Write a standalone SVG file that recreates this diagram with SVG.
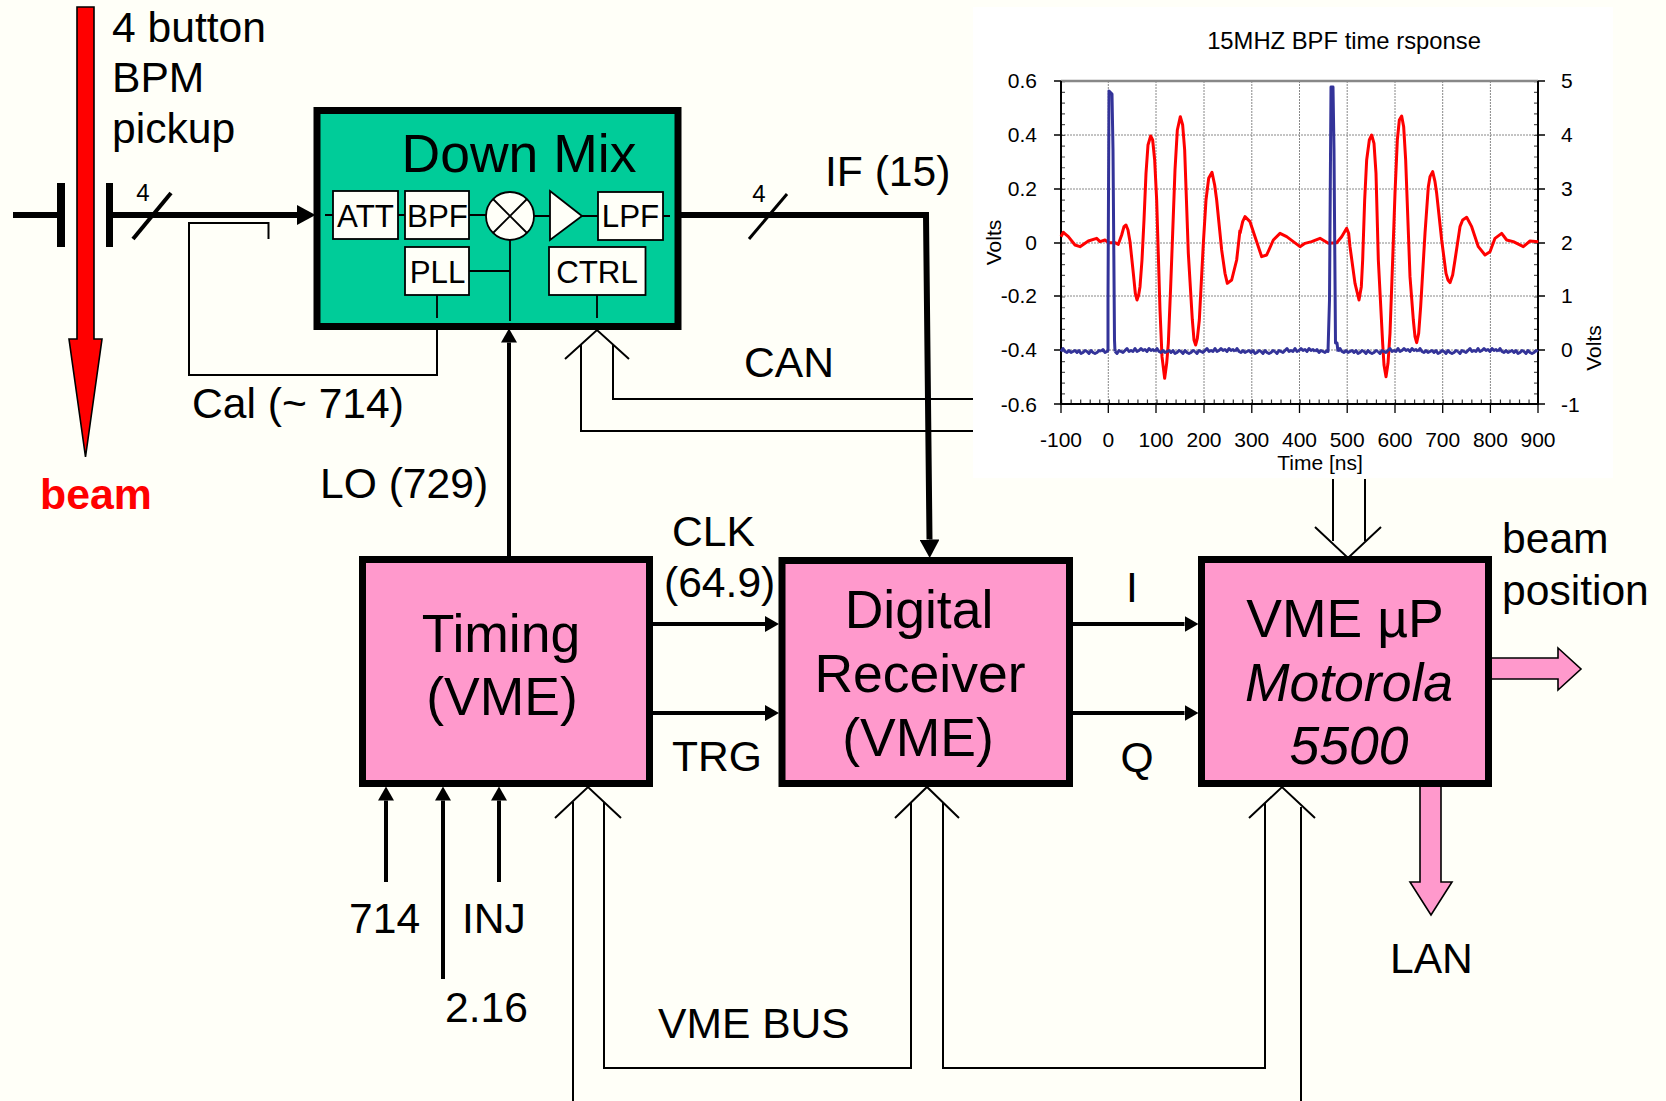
<svg xmlns="http://www.w3.org/2000/svg" width="1666" height="1101" viewBox="0 0 1666 1101">
<style>
text{font-family:"Liberation Sans",Arial,sans-serif;fill:#000}
.l{font-size:42.600px}.m{font-size:53.500px;text-anchor:middle}.i{font-style:italic}
.s{font-size:31.300px;text-anchor:middle}.n{font-size:24px;text-anchor:middle}
.c{font-size:21px}.ce{text-anchor:end}.cm{text-anchor:middle}
.pink{fill:#ff99cc;stroke:#000;stroke-width:7}
.sub{fill:#fffff8;stroke:#000;stroke-width:1.8}
.thin{fill:none;stroke:#000;stroke-width:2}
.med{fill:none;stroke:#000;stroke-width:4}
.thick{fill:none;stroke:#000;stroke-width:6}
.grid{fill:none;stroke:#888;stroke-width:1;stroke-dasharray:2 1}
.fat{fill:#ff99cc;stroke:#000;stroke-width:1.6}
.red{fill:none;stroke:#f00;stroke-width:9;stroke-linejoin:round}
.blue{fill:none;stroke:#333399;stroke-width:3;stroke-linejoin:round}
</style>
<defs>
<marker id="a" markerUnits="userSpaceOnUse" markerWidth="15" markerHeight="16" refX="0" refY="8" orient="auto"><path d="M0 0L14 8L0 16z" fill="#000"/></marker>
<marker id="b" markerUnits="userSpaceOnUse" markerWidth="19" markerHeight="20" refX="0" refY="10" orient="auto"><path d="M0 0L18.500 10L0 20z" fill="#000"/></marker>
<path id="nb" class="blue" d="M0 0l2-3 2 3 2 1 2-2 2 2 2-1 2-1 2 2 2-2 2 3 2-1 2-2 2 1 2 2 2-3 2 2 2 1 2-1 2-2 2 1"/>
<path id="nc" class="blue" d="M0 0l2 2 2-3 2 1 2 1 2-2 2-2 2 3 2-1 2 1 2-3 2 3 2-1 2-2 2 2 2-1 2 2 2-3 2 2 2-1 2 2"/>
</defs>
<rect width="1666" height="1101" fill="#fffff8"/>

<g id="connectors">
<path class="thick" d="M13 215H60M112 215H297" marker-end="url(#b)"/>
<path class="thick" d="M681 215H926L929.500 539.500" marker-end="url(#b)"/>
<path class="med" d="M133 239L171 193"/>
<path class="med" style="stroke-width:3" d="M749 239L787 194"/>
<path class="thin" d="M268.500 239V223H189V375H437V330"/>
<path class="med" d="M509 558V342.500" marker-end="url(#a)"/>
<path class="thin" d="M565 359L597 330L629 359M581 345V431H973M613 345V399H973"/>
<path class="thin" d="M1333 479V541M1365 479V541M1315 527L1348 558L1381 527"/>
<path class="med" d="M653 624H765" marker-end="url(#a)"/>
<path class="med" d="M653 713H765" marker-end="url(#a)"/>
<path class="med" d="M1073 624H1184.500" marker-end="url(#a)"/>
<path class="med" d="M1073 713H1184.500" marker-end="url(#a)"/>
<path class="med" d="M386 882V800.500" marker-end="url(#a)"/>
<path class="med" d="M443 979V800.500" marker-end="url(#a)"/>
<path class="med" d="M499 882V800.500" marker-end="url(#a)"/>
<path class="thin" d="M555 818L588 787L621 818M573 1101V802M604 802V1068H911V802M895 818L927 787L959 818M943 802V1068H1265V803M1249 818L1282 787L1315 818M1301 807V1101"/>
</g>

<g id="beam-arrow">
<path d="M77 7H94V339H102L85.500 457L69 339H77z" fill="#f00" stroke="#000" stroke-width="1.600"/>
<rect x="57" y="183" width="8" height="64" fill="#000"/>
<rect x="106" y="183" width="7" height="64" fill="#000"/>
<text class="l" x="112" y="42">4 button</text>
<text class="l" x="112" y="92">BPM</text>
<text class="l" x="112" y="143">pickup</text>
<text x="40" y="509" style="font-size:42.800px;font-weight:bold;fill:#f00">beam</text>
</g>

<g id="node-downmix">
<rect x="317" y="110.500" width="361" height="216" fill="#00cc99" stroke="#000" stroke-width="7"/>
<path class="thin" d="M325 215H333M398 215H405M469 215H486M534 216H550M582 216H598M663 216H670M469 271H510M510 240V321M437 295V318M597 295V318" style="stroke-width:1.800"/>
<text class="m" x="519" y="172">Down Mix</text>
<g id="att"><rect class="sub" x="333" y="191" width="65" height="48"/><text class="s" x="365.500" y="227">ATT</text></g>
<g id="bpf"><rect class="sub" x="405" y="191" width="64" height="48"/><text class="s" x="437.500" y="227">BPF</text></g>
<g id="mixer"><circle class="sub" cx="510" cy="216" r="24"/><path class="thin" d="M493 199L527 233M527 199L493 233" style="stroke-width:1.800"/></g>
<path id="amp" class="sub" d="M550 191L582 216L550 240z"/>
<g id="lpf"><rect class="sub" x="598" y="192" width="65" height="48"/><text class="s" x="630.500" y="227">LPF</text></g>
<g id="pll"><rect class="sub" x="405" y="247" width="64" height="48"/><text class="s" x="437.500" y="283">PLL</text></g>
<g id="ctrl"><rect class="sub" x="549" y="247" width="96.500" height="48"/><text class="s" x="597" y="283">CTRL</text></g>
</g>

<g id="chart">
<rect x="973" y="7" width="640" height="471" fill="#fff"/>
<text x="1344" y="49" style="font-size:23.800px;text-anchor:middle">15MHZ BPF time rsponse</text>
<path class="grid" d="M1108.300 81V404M1156 81V404M1204 81V404M1251.800 81V404M1299.500 81V404M1347.200 81V404M1395 81V404M1442.700 81V404M1490.400 81V404M1061 135H1538M1061 189H1538M1061 243H1538M1061 296H1538M1061 350H1538"/>
<path d="M1063 81V404M1536 81V404" fill="none" stroke="#555" stroke-width="4" stroke-dasharray="1.200 9.570"/>
<path d="M1061 402H1538" fill="none" stroke="#333" stroke-width="5" stroke-dasharray="1.200 8.340"/>
<path d="M1061 81H1538" fill="none" stroke="#888" stroke-width="2.500"/>
<path d="M1054 81H1061M1054 135H1061M1054 189H1061M1054 243H1061M1054 296H1061M1054 350H1061M1054 404H1061M1538 81H1545M1538 135H1545M1538 189H1545M1538 243H1545M1538 296H1545M1538 350H1545M1538 404H1545M1061 404V413M1108.300 404V413M1156 404V413M1204 404V413M1251.800 404V413M1299.500 404V413M1347.200 404V413M1395 404V413M1442.700 404V413M1490.400 404V413M1538 404V413" fill="none" stroke="#000" stroke-width="1.300"/>
<path d="M1061 81V404H1538V81" fill="none" stroke="#000" stroke-width="2"/>
<polyline class="red" transform="translate(1000 60) scale(.33333)" points="183,530 190,517 205,530 225,555 240,560 265,543 290,535 300,545 315,540 325,548 345,548 355,553 365,525 372,500 378,495 384,510 390,545 400,640 406,700 411,720 416,705 420,680 426,600 432,480 438,340 444,255 452,228 458,240 464,300 470,420 480,750 486,890 494,955 500,910 505,850 512,680 518,520 525,330 532,210 541,170 548,195 554,270 565,580 577,780 582,840 587,855 592,835 598,780 610,550 618,420 626,355 636,337 644,375 650,420 665,570 675,640 682,670 695,660 710,600 720,510"/>
<polyline class="red" transform="translate(1240 60) scale(.33333)" points="0,520 8,485 15,470 30,485 45,530 65,590 80,585 100,540 120,520 140,530 160,545 180,560 195,550 215,545 240,535 265,550 290,548 305,530 320,505 326,520 330,560 345,670 357,720 364,680 368,600 374,420 380,300 388,240 395,225 402,250 408,340 415,600 428,850 432,915 438,950 444,910 450,820 458,600 465,400 472,240 478,180 485,168 491,200 497,300 510,650 520,780 525,830 530,848 536,820 542,740 555,520 565,380 570,350 578,335 585,365 590,400 605,540 618,640 624,660 630,668 638,645 645,600 660,500 668,480 680,472 695,500 715,560 735,585 750,575 765,535 785,520 800,540 820,545 850,560 870,543 895,545"/>
<g id="blue-trace">
<use href="#nb" x="1061" y="351.500"/><use href="#nc" x="1115" y="351.500"/><use href="#nb" x="1155" y="351.500"/><use href="#nc" x="1195" y="351.500"/><use href="#nb" x="1235" y="351.500"/><use href="#nc" x="1275" y="351.500"/>
<use href="#nb" x="1338" y="351.500"/><use href="#nc" x="1378" y="351.500"/><use href="#nb" x="1418" y="351.500"/><use href="#nc" x="1458" y="351.500"/><use href="#nb" x="1498" y="351.500"/>
<path class="blue" d="M1101 351.500l2-2 2 3 2-1 1-1L1108 300 1109 91 1112 94 1113 150 1114.500 340 1115 351.500M1315 351.500l2-2 2 3 2-2 2 1 2 1 2-2 1 1L1329.500 300 1331 87 1333 87 1334 150 1335.500 343 1337 343 1338 351.500"/>
</g>
<text class="c ce" x="1037" y="88">0.6</text><text class="c ce" x="1037" y="142">0.4</text><text class="c ce" x="1037" y="196">0.2</text><text class="c ce" x="1037" y="250">0</text><text class="c ce" x="1037" y="303">-0.2</text><text class="c ce" x="1037" y="357">-0.4</text><text class="c ce" x="1037" y="412">-0.6</text>
<text class="c" x="1561" y="88">5</text><text class="c" x="1561" y="142">4</text><text class="c" x="1561" y="196">3</text><text class="c" x="1561" y="250">2</text><text class="c" x="1561" y="303">1</text><text class="c" x="1561" y="357">0</text><text class="c" x="1561" y="412">-1</text>
<text class="c cm" x="1061" y="447">-100</text><text class="c cm" x="1108.300" y="447">0</text><text class="c cm" x="1156" y="447">100</text><text class="c cm" x="1204" y="447">200</text><text class="c cm" x="1251.800" y="447">300</text><text class="c cm" x="1299.500" y="447">400</text><text class="c cm" x="1347.200" y="447">500</text><text class="c cm" x="1395" y="447">600</text><text class="c cm" x="1442.700" y="447">700</text><text class="c cm" x="1490.400" y="447">800</text><text class="c cm" x="1538" y="447">900</text>
<text class="c cm" x="1320" y="470">Time [ns]</text>
<text class="c cm" transform="translate(1000.500 242.500) rotate(-90)">Volts</text>
<text class="c cm" transform="translate(1601 348) rotate(-90)">Volts</text>
</g>

<g id="node-timing">
<rect class="pink" x="362.500" y="559.500" width="287" height="224"/>
<text class="m" x="501" y="652">Timing</text>
<text class="m" x="502" y="715">(VME)</text>
</g>
<g id="node-digital">
<rect class="pink" x="782" y="560.500" width="287.500" height="223"/>
<text class="m" x="919" y="628">Digital</text>
<text class="m" x="920" y="692">Receiver</text>
<text class="m" x="918" y="756">(VME)</text>
</g>
<g id="node-vme">
<rect class="pink" x="1201.500" y="559.500" width="287" height="224"/>
<text class="m" x="1345" y="637">VME µP</text>
<text class="m i" x="1349" y="701">Motorola</text>
<text class="m i" x="1349" y="764">5500</text>
</g>
<path id="out-beam" class="fat" d="M1492 658H1558V648L1581 669L1558 690V679H1492"/>
<path id="out-lan" class="fat" d="M1420 787V882H1410L1431 915L1452 882H1441V787"/>

<g id="labels">
<text class="n" x="143" y="201">4</text>
<text class="n" x="759" y="202">4</text>
<text class="l" x="192" y="418">Cal (~ 714)</text>
<text class="l" x="825" y="186">IF (15)</text>
<text class="l" x="744" y="377">CAN</text>
<text class="l" x="320" y="498">LO (729)</text>
<text class="l" x="672" y="546">CLK</text>
<text class="l" x="664" y="597">(64.9)</text>
<text class="l" x="672" y="771">TRG</text>
<text class="l" x="1132" y="602" text-anchor="middle">I</text>
<text class="l" x="1137" y="772" text-anchor="middle">Q</text>
<text class="l" x="1502" y="553">beam</text>
<text class="l" x="1502" y="605">position</text>
<text class="l" x="1390" y="973">LAN</text>
<text class="l" x="349" y="933">714</text>
<text class="l" x="462" y="933">INJ</text>
<text class="l" x="445" y="1022">2.16</text>
<text class="l" x="658" y="1038">VME BUS</text>
</g>
</svg>
